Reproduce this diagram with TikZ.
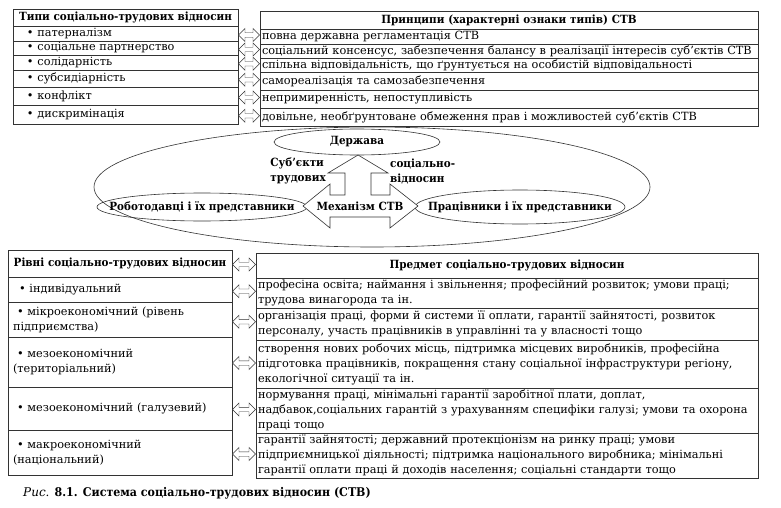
\documentclass[tikz,border=0pt]{standalone}
\usepackage{fontspec}
\setmainfont{DejaVu Serif}[BoldFeatures={FakeStretch=0.92}]
\usetikzlibrary{shapes.geometric,shapes.arrows,calc}
\newcommand\fs{\fontsize{11.3}{15}\selectfont}
\begin{document}
\begin{tikzpicture}[x=1pt,y=-1pt,
  line/.style={draw=black!80,line width=0.6pt},
  cellbox/.style={line, anchor=north west, inner xsep=2pt, inner ysep=0pt, outer sep=0pt, align=left, font=\fs},
  headbox/.style={cellbox, align=center, font=\fs\bfseries},
  tlw/.style={minimum width=225pt, text width=221pt},
  trw/.style={minimum width=498pt, text width=494pt},
  blw/.style={minimum width=224pt, inner xsep=5pt, text width=214pt},
  brw/.style={minimum width=502pt, text width=498pt},
  dblarrow/.style={double arrow, line, line width=0.45pt, fill=white, minimum height=#1, minimum width=13pt, double arrow head extend=3.5pt, inner sep=1.6pt},
  lbl/.style={font=\fs\bfseries, inner sep=0pt}
]
\useasboundingbox[fill=white] (0,0) rectangle (781,508);

% top-left table
\node[headbox,tlw,minimum height=17pt] (tlh) at (13,9) {\mbox{Типи соціально-трудових відносин}};
\node[cellbox,tlw,minimum height=15pt] (tl1) at (13,26) {\hspace*{12pt}• патерналізм};
\node[cellbox,tlw,minimum height=14pt] (tl2) at (13,41) {\hspace*{12pt}• соціальне партнерство};
\node[cellbox,tlw,minimum height=15pt] (tl3) at (13,55) {\hspace*{12pt}• солідарність};
\node[cellbox,tlw,minimum height=17pt] (tl4) at (13,70) {\hspace*{12pt}• субсидіарність};
\node[cellbox,tlw,minimum height=18pt] (tl5) at (13,87) {\hspace*{12pt}• конфлікт};
\node[cellbox,tlw,minimum height=19pt] (tl6) at (13,105) {\hspace*{12pt}• дискримінація};

% top-right table
\node[headbox,trw,minimum height=18pt] (trh) at (260,11) {Принципи (характерні ознаки типів) СТВ};
\node[cellbox,trw,minimum height=15pt] (tr1) at (260,29) {повна державна регламентація СТВ};
\node[cellbox,trw,minimum height=14pt] (tr2) at (260,44) {\mbox{соціальний консенсус, забезпечення балансу в реалізації інтересів суб’єктів СТВ}};
\node[cellbox,trw,minimum height=14pt] (tr3) at (260,58) {\mbox{спільна відповідальність, що ґрунтується на особистій відповідальності}};
\node[cellbox,trw,minimum height=18pt] (tr4) at (260,72) {самореалізація та самозабезпечення};
\node[cellbox,trw,minimum height=18pt] (tr5) at (260,90) {непримиренність, непоступливість};
\node[cellbox,trw,minimum height=18pt] (tr6) at (260,108) {\mbox{довільне, необґрунтоване обмеження прав і можливостей суб’єктів СТВ}};

\foreach \i in {1,...,6}
  \node[dblarrow=21pt] (ta\i) at ($(tl\i.east)!0.5!(tr\i.west)$) {};

% middle system
\node[ellipse, line, minimum width=556pt, minimum height=120pt] (sys) at (372,187) {};
\node[lbl] (state) at (357,142) {Держава};
\draw[line] (state.center) ellipse [x radius=83, y radius=13];
\node[lbl] (emp) at (202,207) {Роботодавці і їх представники};
\draw[line] (emp.center) ellipse [x radius=105, y radius=14];
\node[lbl] (wrk) at (520,207) {Працівники і їх представники};
\draw[line] (wrk.center) ellipse [x radius=105, y radius=17];
\node[lbl, align=left, anchor=east] (subj) at (326,171) {Суб’єкти\\трудових};
\node[lbl, align=left, anchor=west] (socl) at (390,171) {соціально-\\відносин};
\draw[line, fill=white] (303,206) -- (330,184) -- (330,195) -- (345,195) -- (345,173) -- (328,173) -- (358,155) -- (388,173) -- (371,173) -- (371,195) -- (390,195) -- (390,184) -- (418,206) -- (390,228) -- (390,217) -- (330,217) -- (330,228) -- cycle;
\node[lbl] (mech) at (360,206) {Механізм СТВ};

% bottom-left table
\node[headbox,blw,inner xsep=2pt,text width=220pt,minimum height=27pt] (blh) at (8,250) {\mbox{Рівні соціально-трудових відносин}};
\node[cellbox,blw,minimum height=25pt] (bl1) at (8,277) {\hspace*{6pt}• індивідуальний};
\node[cellbox,blw,minimum height=35pt] (bl2) at (8,302) {\hspace*{4pt}• мікроекономічний (рівень\\підприємства)};
\node[cellbox,blw,minimum height=50pt] (bl3) at (8,337) {\hspace*{4pt}• мезоекономічний\\(територіальний)};
\node[cellbox,blw,minimum height=43pt] (bl4) at (8,387) {\hspace*{4pt}• мезоекономічний (галузевий)};
\node[cellbox,blw,minimum height=45pt] (bl5) at (8,430) {\hspace*{4pt}• макроекономічний\\(національний)};

% bottom-right table
\node[headbox,brw,minimum height=25pt] (brh) at (256,253) {Предмет соціально-трудових відносин};
\node[cellbox,brw,minimum height=30pt] (br1) at (256,278) {\mbox{професіна освіта; наймання і звільнення; професійний розвиток; умови праці;}\\трудова винагорода та ін.};
\node[cellbox,brw,minimum height=32pt] (br2) at (256,308) {\mbox{організація праці, форми й системи її оплати, гарантії зайнятості, розвиток}\\персоналу, участь працівників в управлінні та у власності тощо};
\node[cellbox,brw,minimum height=48pt] (br3) at (256,340) {\mbox{створення нових робочих місць, підтримка місцевих виробників, професійна}\\\mbox{підготовка працівників, покращення стану соціальної інфраструктури регіону,}\\екологічної ситуації та ін.};
\node[cellbox,brw,minimum height=45pt] (br4) at (256,388) {\mbox{нормування праці, мінімальні гарантії заробітної плати, доплат,}\\\mbox{надбавок,соціальних гарантій з урахуванням специфіки галузі; умови та охорона}\\праці тощо};
\node[cellbox,brw,minimum height=45pt] (br5) at (256,433) {\mbox{гарантії зайнятості; державний протекціонізм на ринку праці; умови}\\\mbox{підприємницької діяльності; підтримка національного виробника; мінімальні}\\\mbox{гарантії оплати праці й доходів населення; соціальні стандарти тощо}};

\node[dblarrow=23pt] (bah) at ($(blh.east)!0.5!(brh.west)$) {};
\foreach \i in {1,...,5}
  \node[dblarrow=23pt] (ba\i) at ($(bl\i.east)!0.5!(br\i.west)$) {};

% caption
\node[anchor=west, inner sep=0pt, font=\fontsize{12}{14}\selectfont] (cap) at (23,493) {{\itshape Рис.} \textbf{8.1. Система соціально-трудових відносин (СТВ)}};
\end{tikzpicture}
\end{document}
